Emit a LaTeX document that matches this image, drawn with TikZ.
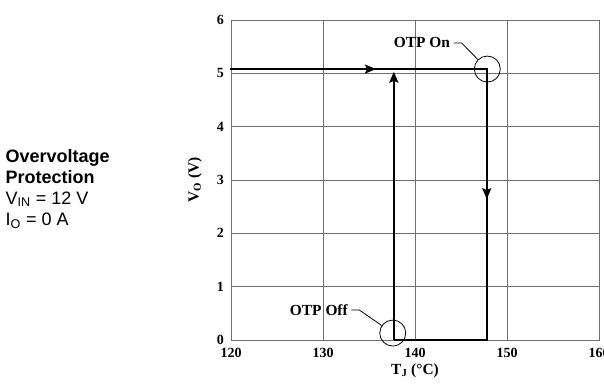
\documentclass[tikz,border=0pt]{standalone}
\usepackage{fontspec}
\setmainfont{Liberation Sans}
\newfontfamily\tnr{Liberation Serif}
\usepackage{xcolor}
\usepackage{tikz}
\usetikzlibrary{arrows.meta}
\definecolor{ink}{HTML}{000000}
\definecolor{gridgray}{HTML}{6E6E6E}
\tikzset{
  gridln/.style={draw=gridgray, line width=0.8pt},
  curve/.style={draw=ink, line width=2.4pt, line join=miter},
  flow/.style={-{Stealth[length=11pt,width=9pt,inset=2pt]}},
  ring/.style={draw=ink, circle, line width=0.8pt, minimum size=26pt, inner sep=0pt},
  lead/.style={draw=ink, line width=0.8pt},
  ticklab/.style={text=ink, font=\tnr\bfseries\fontsize{14}{16}\selectfont},
  lab/.style={text=ink, font=\tnr\bfseries\fontsize{15.4}{17}\selectfont},
  note/.style={text=ink, font=\fontsize{18}{21}\selectfont, align=left, inner sep=0pt},
}
\begin{document}
\begin{tikzpicture}[x=1pt,y=1pt]
  \useasboundingbox (0,0) rectangle (604,390);
  \node[note, anchor=north west] (cond) at (5.5,241)
    {\textbf{Overvoltage}\\ \textbf{Protection}\\ V\textsubscript{IN} = 12 V\\ I\textsubscript{O} = 0 A};
  \begin{scope}[shift={(231,50)}, x=9.2pt, y=53.333pt]
    % grid
    \foreach \t in {10,20,30} \draw[gridln] (\t,0) -- (\t,6);
    \foreach \v in {1,...,5} \draw[gridln] (0,\v) -- (40,\v);
    \draw[gridln] (0,0) rectangle (40,6);
    % tick labels
    \foreach \v in {0,...,6} \node[ticklab, anchor=east, inner sep=0pt] (y\v) at (-0.76,\v) {\v};
    \foreach \t in {120,130,...,160} \node[ticklab] (x\t) at ({\t-120},-0.234) {\t};
    \node[lab] (tj) at (20,-0.58) {T\textsubscript{J} (°C)};
    \node[lab, rotate=90] (vo) at (-3.91,3) {V\textsubscript{O} (V)};
    % hysteresis loop
    \coordinate (start) at (-0.1,5.08);
    \coordinate (on) at (27.8,5.08);
    \coordinate (fall) at (27.8,0);
    \coordinate (off) at (17.7,0);
    \coordinate (rise) at (17.7,5.03);
    \coordinate (heat) at (15.76,5.08);
    \coordinate (drop) at (27.8,2.64);
    \draw[curve] (start) -- (on) -- (fall) -- (off);
    \draw[curve, flow] (off) -- (rise);
    \draw[curve, flow] (start) -- (heat);
    \draw[curve, flow] (on) -- (drop);
    % markers
    \node[ring] (onring) at (27.86,5.08) {};
    \node[ring] (offring) at (17.58,0.13) {};
    \node[lab] (onlab) at (20.76,5.57) {OTP On};
    \node[lab] (offlab) at (9.55,0.5625) {OTP Off};
    \draw[lead] (onlab.east) -- ++(8pt,0) -- (onring);
    \draw[lead] (offlab.east) -- ++(8pt,0) -- (offring);
  \end{scope}
\end{tikzpicture}
\end{document}
